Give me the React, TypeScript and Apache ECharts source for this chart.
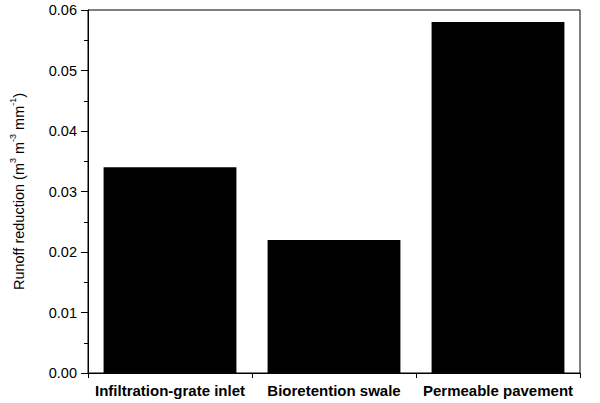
import React, { useEffect, useRef } from "react";
import * as echarts from "echarts";

const categories = ["Infiltration-grate inlet", "Bioretention swale", "Permeable pavement"];
const runoffReduction = [0.034, 0.022, 0.058];
const yMin = 0;
const yMax = 0.06;
const yInterval = 0.01;

export default function App() {
  const ref = useRef<HTMLDivElement>(null);
  useEffect(() => {
    if (!ref.current) return;
    const chart = echarts.init(ref.current, null, { renderer: "svg" });
    const font = "'Liberation Sans', Arial, sans-serif";
    chart.setOption({
      animation: false,
      backgroundColor: "#ffffff",
      grid: {
        left: 88,
        right: 20,
        top: 10,
        bottom: 30,
        show: true,
        borderColor: "#000",
        borderWidth: 1,
        backgroundColor: "transparent",
      },
      xAxis: {
        type: "category",
        data: categories,
        boundaryGap: true,
        axisLine: { show: true, lineStyle: { color: "#000", width: 1 } },
        axisTick: { show: true, alignWithLabel: false, length: 5, lineStyle: { color: "#000" } },
        axisLabel: {
          color: "#000",
          fontFamily: font,
          fontWeight: "bold",
          fontSize: 15,
          margin: 10,
          interval: 0,
        },
        splitLine: { show: false },
      },
      yAxis: {
        type: "value",
        min: yMin,
        max: yMax,
        interval: yInterval,
        name: "{n|Runoff reduction (m}{s|3}{n| m}{s|-3}{n| mm}{s|-1}{n|)}",
        nameLocation: "middle",
        nameGap: 62,
        nameTextStyle: {
          color: "#000",
          fontFamily: font,
          rich: {
            n: { fontSize: 14.5, fontFamily: font, color: "#000", lineHeight: 18, verticalAlign: "bottom" },
            s: { fontSize: 9, fontFamily: font, color: "#000", lineHeight: 18, verticalAlign: "top" },
          },
        },
        axisLine: { show: true, lineStyle: { color: "#000", width: 1 } },
        axisTick: { show: true, inside: false, length: 7, lineStyle: { color: "#000" } },
        minorTick: { show: true, splitNumber: 2, length: 4, lineStyle: { color: "#000" } },
        axisLabel: {
          color: "#000",
          fontFamily: font,
          fontSize: 14.5,
          margin: 11,
          formatter: (v: number) => v.toFixed(2),
        },
        splitLine: { show: false },
        minorSplitLine: { show: false },
      },
      series: [
        {
          type: "bar",
          data: runoffReduction,
          barCategoryGap: "19%",
          itemStyle: { color: "#000" },
        },
      ],
    });
    return () => chart.dispose();
  }, []);
  return <div ref={ref} style={{ width: 600, height: 403, position: "absolute", left: 0, top: 0 }} />;
}
